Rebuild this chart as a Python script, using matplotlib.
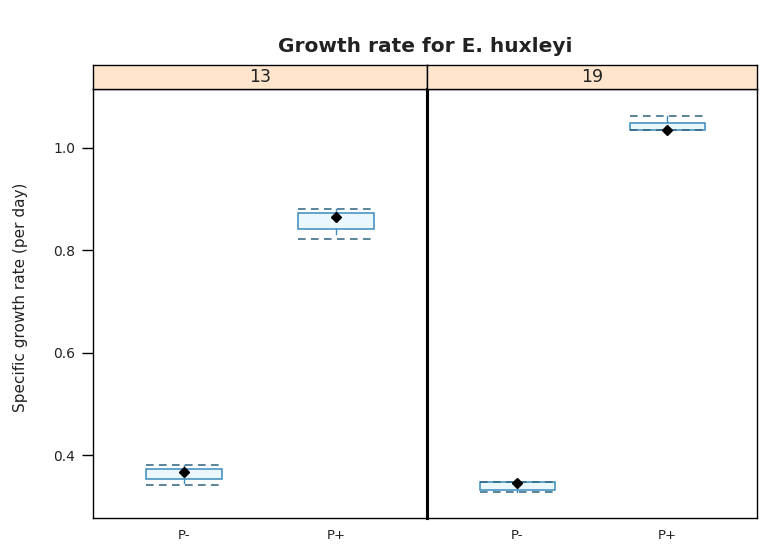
"""Box plots of E. huxleyi specific growth rate by P treatment, one panel per temperature."""

import matplotlib
matplotlib.use("Agg")
import matplotlib.pyplot as plt
from matplotlib.patches import Rectangle

plt.rcParams["font.family"] = ["DejaVu Sans"]

temps = ["13", "19"]
treatments = ["P-", "P+"]

# box stats per panel, ordered as treatments
q1 = {"13": [0.353, 0.842], "19": [0.332, 1.035]}
med = {"13": [0.367, 0.865], "19": [0.345, 1.035]}
q3 = {"13": [0.372, 0.872], "19": [0.347, 1.048]}
whisk_lo = {"13": [0.345, 0.831], "19": [0.328, 1.035]}
whisk_hi = {"13": [0.381, 0.880], "19": [0.347, 1.063]}
# dashed reference levels drawn across each box
dash_lo = {"13": [0.342, 0.822], "19": [0.328, 1.035]}
dash_hi = {"13": [0.381, 0.880], "19": [0.347, 1.063]}

yticks = [0.4, 0.6, 0.8, 1.0]

BOX_EDGE = "#3b8bbf"
BOX_FILL = "#eaf8fd"
DASH_COL = "#2f637e"
STRIP_COL = "#ffe5cc"
TXT = "#222222"

fig = plt.figure(figsize=(7.6, 5.48), dpi=100)
W, H = 760.0, 548.0
bot, top = 518, 89
strip_top = 65
edges = [(93, 427), (427, 757)]

axes = []
for pi, t in enumerate(temps):
    x0, x1 = edges[pi]
    ax = fig.add_axes([x0 / W, 1 - bot / H, (x1 - x0) / W, (bot - top) / H])
    axes.append(ax)
    bw = 0.5
    for xi, trt in enumerate(treatments):
        xc = xi + 1
        ax.add_patch(Rectangle((xc - bw / 2, q1[t][xi]), bw, q3[t][xi] - q1[t][xi],
                               facecolor=BOX_FILL, edgecolor=BOX_EDGE, lw=1.1, zorder=3))
        ax.plot([xc, xc], [whisk_lo[t][xi], q1[t][xi]], color=BOX_EDGE, lw=1.0, zorder=2)
        ax.plot([xc, xc], [q3[t][xi], whisk_hi[t][xi]], color=BOX_EDGE, lw=1.0, zorder=2)
        for lvl in (dash_lo[t][xi], dash_hi[t][xi]):
            ax.plot([xc - bw / 2, xc + bw / 2], [lvl, lvl], color=DASH_COL, lw=1.1,
                    ls=(0, (5, 3.5)), zorder=4)
        ax.plot(xc, med[t][xi], marker="D", ms=5.5, color="black", zorder=5)

    ax.set_xlim(0.4, 2.6)
    ax.set_ylim(0.277, 1.115)
    ax.set_xticks([1, 2])
    ax.set_xticklabels(treatments, fontsize=9.5, color=TXT)
    ax.tick_params(axis="x", length=0, pad=8)
    for sp in ax.spines.values():
        sp.set_linewidth(1.0)

    # strip header
    sax = fig.add_axes([x0 / W, 1 - top / H, (x1 - x0) / W, (top - strip_top) / H])
    sax.set_facecolor(STRIP_COL)
    sax.set_xticks([]); sax.set_yticks([])
    for sp in sax.spines.values():
        sp.set_linewidth(1.0)
    sax.text(0.5, 0.48, t, ha="center", va="center", fontsize=12.5, color=TXT,
             transform=sax.transAxes)

axes[0].set_yticks(yticks)
axes[0].set_yticklabels([f"{v:.1f}" for v in yticks], fontsize=10, color=TXT)
axes[0].tick_params(axis="y", length=8, width=1.0, pad=5)
axes[1].set_yticks([])
axes[1].spines["left"].set_linewidth(2.2)
axes[0].spines["right"].set_linewidth(2.2)

fig.text(21 / W, 1 - 297 / H, "Specific growth rate (per day)", rotation=90,
         ha="center", va="center", fontsize=11, color=TXT)
fig.text(425 / W, 1 - 47 / H, "Growth rate for E. huxleyi", ha="center", va="center",
         fontsize=14.5, fontweight="bold", color=TXT)

fig.savefig("out.png", dpi=100)
